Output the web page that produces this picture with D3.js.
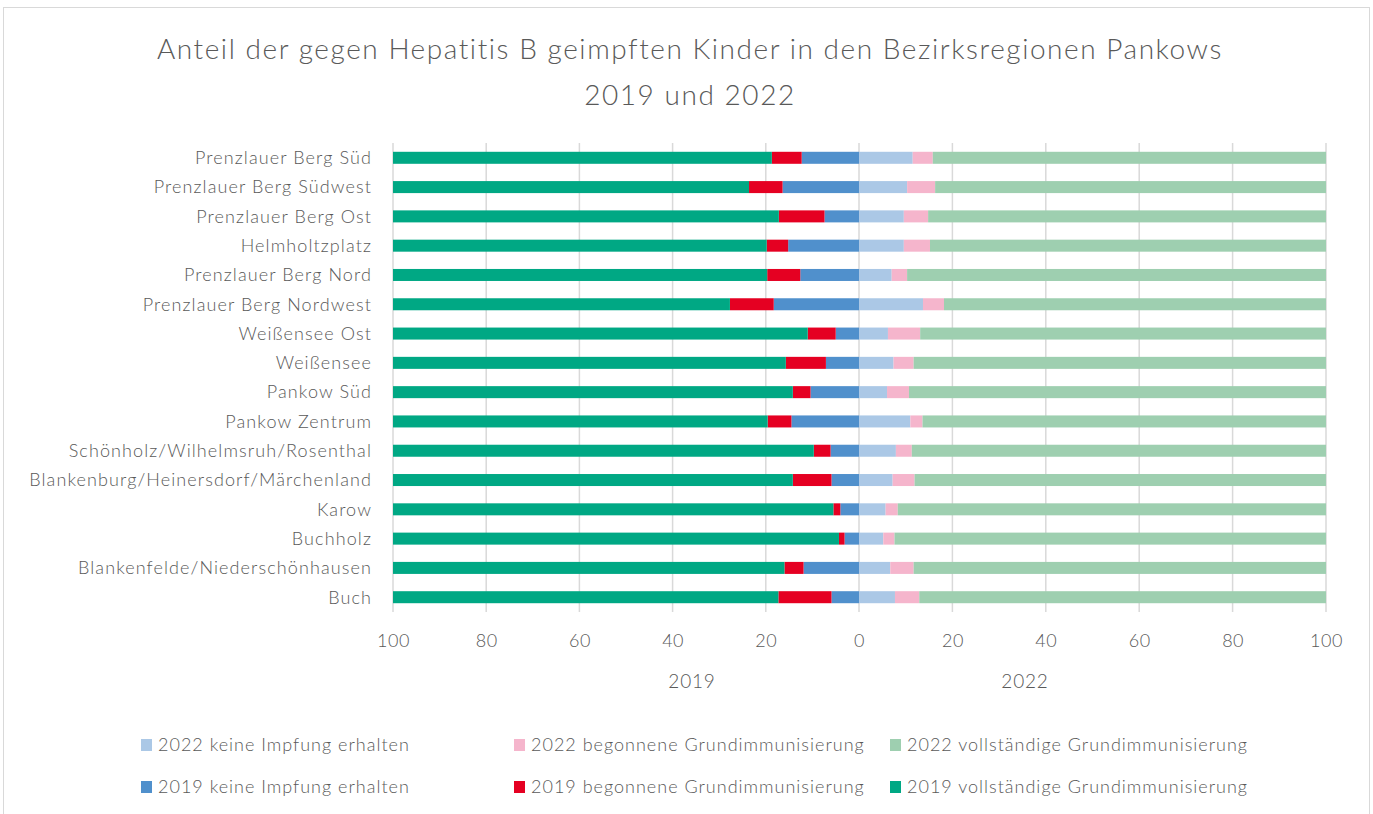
<!DOCTYPE html>
<html>
<head>
<meta charset="utf-8">
<script src="https://cdn.jsdelivr.net/npm/d3@7"></script>
<style>
  body { margin: 0; background: #fff; }
  svg text { font-family: Lato, "Open Sans", sans-serif; font-weight: 300; fill: #595959; }
</style>
</head>
<body>
<svg id="chart" width="1373" height="814"></svg>
<script>
// Bezirksregionen, von oben nach unten
const regions = [
  "Prenzlauer Berg Süd", "Prenzlauer Berg Südwest", "Prenzlauer Berg Ost",
  "Helmholtzplatz", "Prenzlauer Berg Nord", "Prenzlauer Berg Nordwest",
  "Weißensee Ost", "Weißensee", "Pankow Süd", "Pankow Zentrum",
  "Schönholz/Wilhelmsruh/Rosenthal", "Blankenburg/Heinersdorf/Märchenland",
  "Karow", "Buchholz", "Blankenfelde/Niederschönhausen", "Buch"
];

// 2019 (Anteile in %)
const keine2019   = [12.3, 16.4, 7.4, 15.2, 12.6, 18.3, 5.0, 7.1, 10.4, 14.5, 6.1, 5.9, 4.0, 3.1, 11.9, 5.9];
const begonnen2019 = [6.4, 7.2, 9.8, 4.6, 7.1, 9.4, 6.0, 8.6, 3.8, 5.1, 3.6, 8.3, 1.5, 1.2, 4.1, 11.4];
const voll2019    = [81.3, 76.4, 82.8, 80.2, 80.3, 72.3, 89.0, 84.3, 85.8, 80.4, 90.3, 85.8, 94.5, 95.7, 84.0, 82.7];

// 2022 (Anteile in %)
const keine2022   = [11.5, 10.3, 9.6, 9.6, 7.0, 13.7, 6.2, 7.4, 6.0, 11.0, 7.9, 7.2, 5.7, 5.2, 6.7, 7.7];
const begonnen2022 = [4.3, 6.0, 5.2, 5.6, 3.3, 4.5, 6.9, 4.3, 4.7, 2.6, 3.4, 4.7, 2.6, 2.4, 5.0, 5.2];
const voll2022    = [84.2, 83.7, 85.2, 84.8, 89.7, 81.8, 86.9, 88.3, 89.3, 86.4, 88.7, 88.1, 91.7, 92.4, 88.3, 87.1];

const ticksLeft  = [100, 80, 60, 40, 20, 0];
const ticksRight = [20, 40, 60, 80, 100];

const series2019 = [
  { name: "2019 keine Impfung erhalten",        values: keine2019,    color: "#5090cc" },
  { name: "2019 begonnene Grundimmunisierung",   values: begonnen2019, color: "#e50022" },
  { name: "2019 vollständige Grundimmunisierung", values: voll2019,   color: "#00a884" }
];
const series2022 = [
  { name: "2022 keine Impfung erhalten",        values: keine2022,    color: "#abc8e6" },
  { name: "2022 begonnene Grundimmunisierung",   values: begonnen2022, color: "#f5b5cc" },
  { name: "2022 vollständige Grundimmunisierung", values: voll2022,   color: "#9ecfb0" }
];

const svg = d3.select("#chart");

// Rahmen
svg.append("rect")
  .attr("x", 3.5).attr("y", 7.5)
  .attr("width", 1366).attr("height", 812)
  .attr("fill", "none").attr("stroke", "#d9d9d9").attr("stroke-width", 1);

// Titel
svg.append("text")
  .attr("x", 690).attr("y", 59)
  .attr("text-anchor", "middle").attr("font-size", 28).attr("letter-spacing", 1.55)
  .text("Anteil der gegen Hepatitis B geimpften Kinder in den Bezirksregionen Pankows");
svg.append("text")
  .attr("x", 690).attr("y", 105)
  .attr("text-anchor", "middle").attr("font-size", 28).attr("letter-spacing", 1.55)
  .text("2019 und 2022");

// Skalen
const x19 = d3.scaleLinear().domain([100, 0]).range([393, 859]);
const x22 = d3.scaleLinear().domain([0, 100]).range([859, 1326]);
const y = d3.scaleBand().domain(regions).range([143, 612]).paddingInner(0.59).paddingOuter(0.3);

// Gitterlinien
const grid = svg.append("g");
grid.selectAll(".gl")
  .data(ticksLeft).enter().append("line")
  .attr("x1", d => x19(d)).attr("x2", d => x19(d))
  .attr("y1", 143).attr("y2", 612)
  .attr("stroke", "#d9d9d9").attr("stroke-width", 1.5);
grid.selectAll(".gr")
  .data(ticksRight).enter().append("line")
  .attr("x1", d => x22(d)).attr("x2", d => x22(d))
  .attr("y1", 143).attr("y2", 612)
  .attr("stroke", "#d9d9d9").attr("stroke-width", 1.5);

// gestapelte Balken
function stackSide(series, scale) {
  let offsets = regions.map(() => 0);
  series.forEach(s => {
    svg.append("g").selectAll("rect")
      .data(regions).enter().append("rect")
      .attr("x", (r, i) => Math.min(scale(offsets[i]), scale(offsets[i] + s.values[i])))
      .attr("width", (r, i) => Math.abs(scale(offsets[i] + s.values[i]) - scale(offsets[i])))
      .attr("y", r => y(r))
      .attr("height", y.bandwidth())
      .attr("fill", s.color);
    offsets = offsets.map((o, i) => o + s.values[i]);
  });
}
stackSide(series2019, x19);
stackSide(series2022, x22);

// Kategorienbeschriftung
svg.append("g").selectAll("text")
  .data(regions).enter().append("text")
  .attr("x", 372)
  .attr("y", r => y(r) + y.bandwidth() / 2)
  .attr("dy", "0.35em")
  .attr("text-anchor", "end")
  .attr("font-size", 18).attr("letter-spacing", 1.1)
  .text(r => r);

// Achsen
const axL = svg.append("g").attr("transform", "translate(0,612)")
  .call(d3.axisBottom(x19).tickValues(ticksLeft).tickSize(0).tickPadding(22));
const axR = svg.append("g").attr("transform", "translate(0,612)")
  .call(d3.axisBottom(x22).tickValues(ticksRight).tickSize(0).tickPadding(22));
[axL, axR].forEach(a => {
  a.select(".domain").remove();
  a.selectAll("text").attr("font-size", 18).attr("letter-spacing", 0.5)
    .attr("font-family", null).attr("fill", null);
});

svg.append("text").attr("x", 692).attr("y", 688)
  .attr("text-anchor", "middle").attr("font-size", 19).attr("letter-spacing", 0.8).text("2019");
svg.append("text").attr("x", 1025).attr("y", 688)
  .attr("text-anchor", "middle").attr("font-size", 19).attr("letter-spacing", 0.8).text("2022");

// Legende
const legendCols = [141, 514, 890];
const legendRows = [745, 787];
[series2022, series2019].forEach((row, ri) => {
  row.forEach((s, ci) => {
    const g = svg.append("g")
      .attr("transform", `translate(${legendCols[ci]},${legendRows[ri]})`);
    g.append("rect").attr("x", 0).attr("y", -6).attr("width", 11).attr("height", 12).attr("fill", s.color);
    g.append("text").attr("x", 17).attr("y", 0).attr("dy", "0.35em")
      .attr("font-size", 18).attr("letter-spacing", 1).text(s.name);
  });
});
</script>
</body>
</html>
